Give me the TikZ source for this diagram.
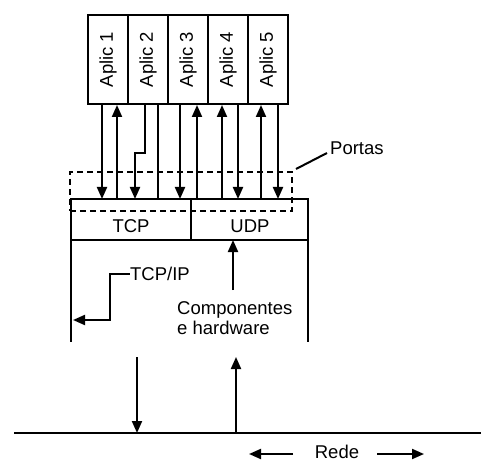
\documentclass[tikz,border=0pt]{standalone}
\usepackage{fontspec}
\setmainfont{Liberation Sans}
\usetikzlibrary{arrows.meta}
\begin{document}
\begin{tikzpicture}[x=1pt,y=-1pt,
  ln/.style={line width=2pt},
  arr/.style={ln,-{Triangle[length=12pt,width=10pt]}},
  txt/.style={inner sep=0pt,font=\fontsize{18.5}{22}\selectfont},
  appbox/.style={draw,line width=2.2pt,rotate=90,minimum width=89pt,minimum height=40pt,inner sep=0pt,outer sep=0pt,font=\fontsize{18.5}{22}\selectfont},
  cell/.style={draw,ln,minimum height=41pt,inner sep=0pt,outer sep=0pt},
  portbox/.style={draw,ln,dash pattern=on 6pt off 4pt,minimum width=222pt,minimum height=39pt,inner sep=0pt,outer sep=0pt}]
\useasboundingbox (0,0) rectangle (481,462);
% application boxes
\node[appbox] (a1) at (108,59.5) {Aplic 1};
\node[appbox] (a2) at (148,59.5) {Aplic 2};
\node[appbox] (a3) at (188,59.5) {Aplic 3};
\node[appbox] (a4) at (228,59.5) {Aplic 4};
\node[appbox] (a5) at (268,59.5) {Aplic 5};
% ports (dashed)
\node[portbox] (ports) at (181,191.5) {};
% TCP / UDP cells
\node[cell,minimum width=120pt] (tcp) at (131,219.5) {};
\node[cell,minimum width=117pt] (udp) at (249.5,219.5) {};
\node[txt] (tcpt) at (131,226) {TCP};
\node[txt] (udpt) at (250,226) {UDP};
% lower box sides
\coordinate (bl) at (71,342);
\coordinate (br) at (308,342);
\draw[ln] (tcp.south west) -- (bl);
\draw[ln] (udp.south east) -- (br);
% app <-> transport arrows
\draw[arr] ([xshift=-6pt]a1.west) -- ([xshift=-6pt]a1.west |- tcp.north);
\draw[arr] ([xshift=9pt]a1.west |- tcp.north) -- ([xshift=9pt,yshift=-1pt]a1.west);
\draw[arr] ([xshift=-3pt]a2.west) -- ++(0,49) -- ++(-10,0) -- ([xshift=-13pt]a2.west |- tcp.north);
\draw[ln] ([xshift=10pt]a2.west) -- ([xshift=10pt]a2.west |- tcp.north);
\draw[arr] ([xshift=-8pt]a3.west) -- ([xshift=-8pt]a3.west |- tcp.north);
\draw[arr] ([xshift=9pt]a3.west |- udp.north) -- ([xshift=9pt,yshift=-1pt]a3.west);
\draw[arr] ([xshift=-6pt]a4.west |- udp.north) -- ([xshift=-6pt,yshift=-1pt]a4.west);
\draw[arr] ([xshift=10pt]a4.west) -- ([xshift=10pt]a4.west |- udp.north);
\draw[arr] ([xshift=-7pt]a5.west |- udp.north) -- ([xshift=-7pt,yshift=-1pt]a5.west);
\draw[arr] ([xshift=10pt]a5.west) -- ([xshift=10pt]a5.west |- udp.north);
% Portas label
\node[txt,anchor=west] (portas) at (330,148) {Portas};
\coordinate (pc) at (296,169);
\draw[ln] (pc) -- (327,153);
% TCP/IP label
\node[txt] (tcpip) at (160,274) {TCP/IP};
\draw[arr] (tcpip.west) -- (110,274) -- (110,320) -- (73,320);
% Componentes e hardware
\node[txt,align=left,anchor=north west] (comp) at (177,301) {Componentes\\[-2pt]e hardware};
\draw[arr] (233,290) -- (233,240);
% network
\coordinate (g0) at (14,433);
\coordinate (g1) at (481,433);
\draw[ln] (g0) -- (g1);
\coordinate (dn) at (137,357);
\draw[arr] (dn) -- (137,433);
\coordinate (up) at (236,433);
\draw[arr] (up) -- (236,357);
\node[txt] (rede) at (337,452) {Rede};
\draw[arr] (293,454) -- (249,454);
\draw[arr] (377,454) -- (424,454);
\end{tikzpicture}
\end{document}
